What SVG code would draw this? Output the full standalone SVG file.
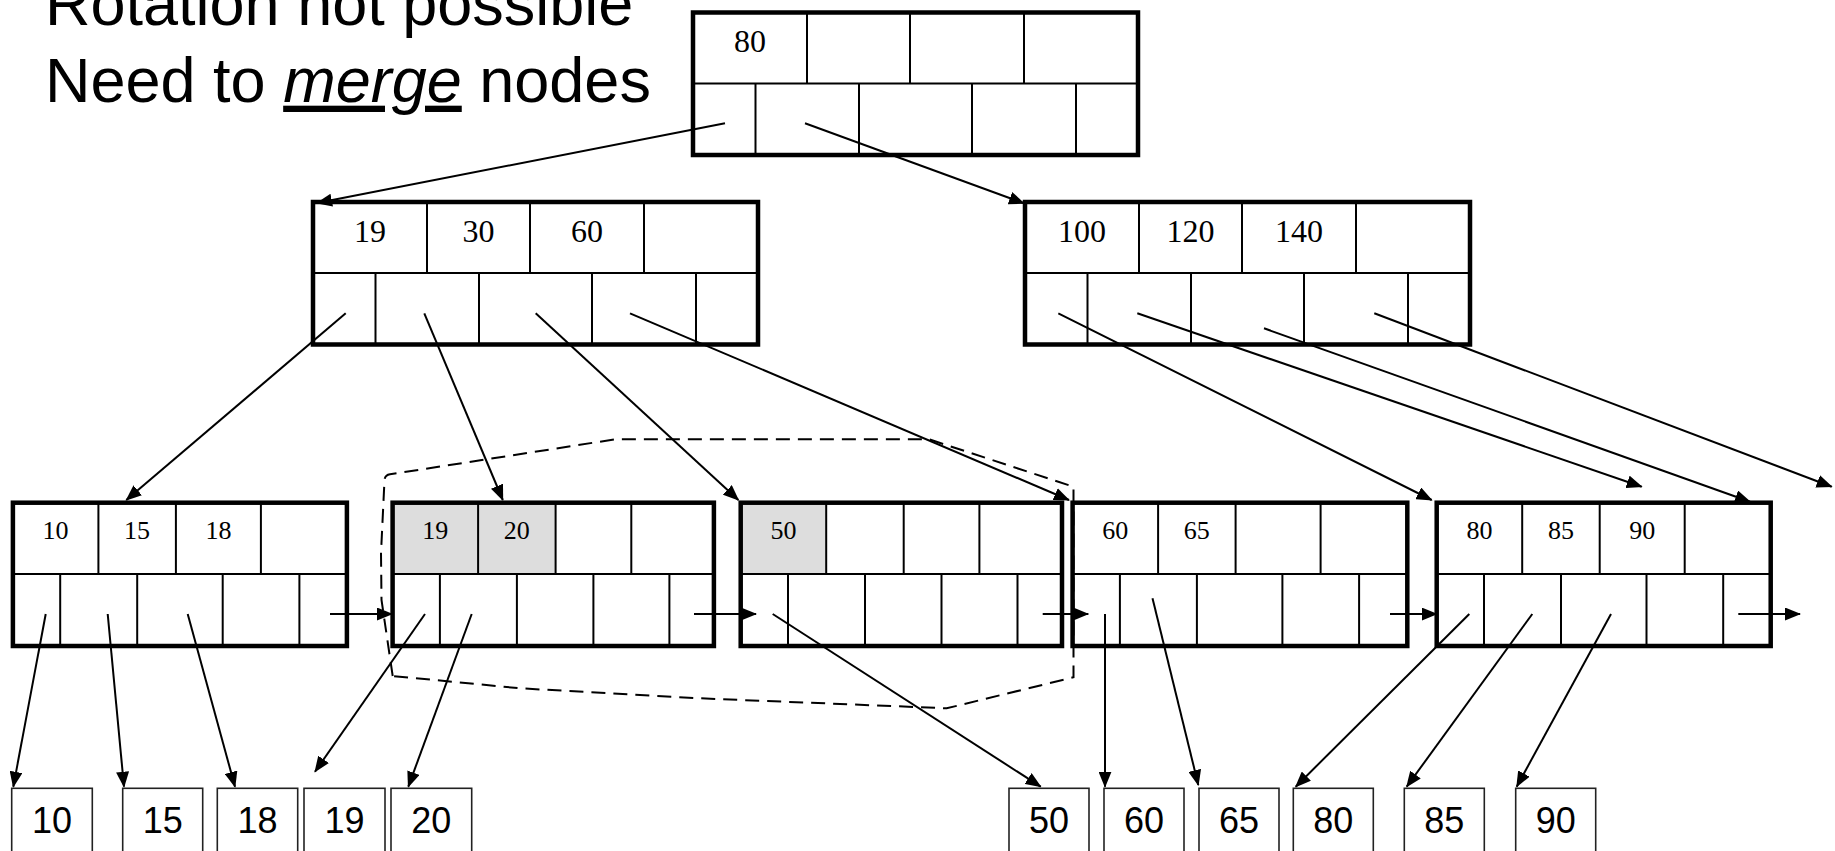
<svg xmlns="http://www.w3.org/2000/svg" width="1835" height="851" viewBox="0 0 1835 851">
<style>
.bg{fill:#ffffff}
.outer{fill:none;stroke:#000;stroke-width:4.5}
.in{stroke:#000;stroke-width:2;fill:none}
.shade{fill:#dddddd}
.kn{font-family:"Liberation Serif","Times New Roman",serif;font-size:32px;fill:#000;text-anchor:middle}
.kl{font-family:"Liberation Serif","Times New Roman",serif;font-size:26px;fill:#000;text-anchor:middle}
.db rect{fill:#fff;stroke:#222;stroke-width:1.6}
.db text{font-family:"Liberation Sans",Arial,sans-serif;font-size:36px;fill:#000;text-anchor:middle}
.title{font-family:"Liberation Sans",Arial,sans-serif;font-size:63px;fill:#000}
.conn line{stroke:#000;stroke-width:2;marker-end:url(#ah)}
.merge{fill:none;stroke:#000;stroke-width:2;stroke-dasharray:14 8}
</style>
<defs>
<marker id="ah" markerWidth="16" markerHeight="13" refX="15" refY="6.5" orient="auto" markerUnits="userSpaceOnUse">
<path d="M0,0 L16,6.5 L0,13 z" fill="#000"/>
</marker>
</defs>
<rect class="bg" x="0" y="0" width="1835" height="851"/>

<g id="title">
<text class="title" x="45" y="25">Rotation not possible</text>
<text class="title" x="45" y="101.7">Need to <tspan font-style="italic" text-decoration="underline">merge</tspan> nodes</text>
</g>

<!-- root -->
<g id="root" transform="translate(693,12.5)">
<line class="in" x1="0" y1="71" x2="445" y2="71"/>
<line class="in" x1="114" y1="0" x2="114" y2="71"/>
<line class="in" x1="217" y1="0" x2="217" y2="71"/>
<line class="in" x1="331" y1="0" x2="331" y2="71"/>
<line class="in" x1="62.5" y1="71" x2="62.5" y2="142.5"/>
<line class="in" x1="166" y1="71" x2="166" y2="142.5"/>
<line class="in" x1="279" y1="71" x2="279" y2="142.5"/>
<line class="in" x1="383" y1="71" x2="383" y2="142.5"/>
<rect class="outer" x="0" y="0" width="445" height="142.5"/>
<text class="kn" x="57" y="39.8">80</text>
</g>

<g id="inner-left" transform="translate(313,202)">
<line class="in" x1="0" y1="71" x2="445" y2="71"/>
<line class="in" x1="114" y1="0" x2="114" y2="71"/>
<line class="in" x1="217" y1="0" x2="217" y2="71"/>
<line class="in" x1="331" y1="0" x2="331" y2="71"/>
<line class="in" x1="62.5" y1="71" x2="62.5" y2="142.5"/>
<line class="in" x1="166" y1="71" x2="166" y2="142.5"/>
<line class="in" x1="279" y1="71" x2="279" y2="142.5"/>
<line class="in" x1="383" y1="71" x2="383" y2="142.5"/>
<rect class="outer" x="0" y="0" width="445" height="142.5"/>
<text class="kn" x="57" y="40.3">19</text>
<text class="kn" x="165.5" y="40.3">30</text>
<text class="kn" x="274" y="40.3">60</text>
</g>

<g id="inner-right" transform="translate(1025,202)">
<line class="in" x1="0" y1="71" x2="445" y2="71"/>
<line class="in" x1="114" y1="0" x2="114" y2="71"/>
<line class="in" x1="217" y1="0" x2="217" y2="71"/>
<line class="in" x1="331" y1="0" x2="331" y2="71"/>
<line class="in" x1="62.5" y1="71" x2="62.5" y2="142.5"/>
<line class="in" x1="166" y1="71" x2="166" y2="142.5"/>
<line class="in" x1="279" y1="71" x2="279" y2="142.5"/>
<line class="in" x1="383" y1="71" x2="383" y2="142.5"/>
<rect class="outer" x="0" y="0" width="445" height="142.5"/>
<text class="kn" x="57" y="40.3">100</text>
<text class="kn" x="165.5" y="40.3">120</text>
<text class="kn" x="274" y="40.3">140</text>
</g>

<!-- leaves -->
<g id="leaf1" transform="translate(12.9,502.7)">
<line class="in" x1="0" y1="71.3" x2="334" y2="71.3"/>
<line class="in" x1="85.5" y1="0" x2="85.5" y2="71.3"/>
<line class="in" x1="163" y1="0" x2="163" y2="71.3"/>
<line class="in" x1="248" y1="0" x2="248" y2="71.3"/>
<line class="in" x1="47.3" y1="71.3" x2="47.3" y2="143.3"/>
<line class="in" x1="124.3" y1="71.3" x2="124.3" y2="143.3"/>
<line class="in" x1="209.8" y1="71.3" x2="209.8" y2="143.3"/>
<line class="in" x1="286.5" y1="71.3" x2="286.5" y2="143.3"/>
<rect class="outer" x="0" y="0" width="334" height="143.3"/>
<text class="kl" x="42.7" y="36.5">10</text>
<text class="kl" x="124.2" y="36.5">15</text>
<text class="kl" x="205.5" y="36.5">18</text>
</g>

<g id="leaf2" transform="translate(392.6,502.7)">
<rect class="shade" x="0" y="0" width="163" height="71.3"/>
<line class="in" x1="0" y1="71.3" x2="321.3" y2="71.3"/>
<line class="in" x1="85.5" y1="0" x2="85.5" y2="71.3"/>
<line class="in" x1="163" y1="0" x2="163" y2="71.3"/>
<line class="in" x1="238.7" y1="0" x2="238.7" y2="71.3"/>
<line class="in" x1="47.3" y1="71.3" x2="47.3" y2="143.3"/>
<line class="in" x1="124.3" y1="71.3" x2="124.3" y2="143.3"/>
<line class="in" x1="200.8" y1="71.3" x2="200.8" y2="143.3"/>
<line class="in" x1="276.8" y1="71.3" x2="276.8" y2="143.3"/>
<rect class="outer" x="0" y="0" width="321.3" height="143.3"/>
<text class="kl" x="42.7" y="36.5">19</text>
<text class="kl" x="124.2" y="36.5">20</text>
</g>

<g id="leaf3" transform="translate(740.7,502.7)">
<rect class="shade" x="0" y="0" width="85.5" height="71.3"/>
<line class="in" x1="0" y1="71.3" x2="321.3" y2="71.3"/>
<line class="in" x1="85.5" y1="0" x2="85.5" y2="71.3"/>
<line class="in" x1="163" y1="0" x2="163" y2="71.3"/>
<line class="in" x1="238.7" y1="0" x2="238.7" y2="71.3"/>
<line class="in" x1="47.3" y1="71.3" x2="47.3" y2="143.3"/>
<line class="in" x1="124.3" y1="71.3" x2="124.3" y2="143.3"/>
<line class="in" x1="200.8" y1="71.3" x2="200.8" y2="143.3"/>
<line class="in" x1="276.8" y1="71.3" x2="276.8" y2="143.3"/>
<rect class="outer" x="0" y="0" width="321.3" height="143.3"/>
<text class="kl" x="42.7" y="36.5">50</text>
</g>

<g id="leaf4" transform="translate(1072.6,502.7)">
<line class="in" x1="0" y1="71.3" x2="334.7" y2="71.3"/>
<line class="in" x1="85.5" y1="0" x2="85.5" y2="71.3"/>
<line class="in" x1="163" y1="0" x2="163" y2="71.3"/>
<line class="in" x1="248" y1="0" x2="248" y2="71.3"/>
<line class="in" x1="47.3" y1="71.3" x2="47.3" y2="143.3"/>
<line class="in" x1="124.3" y1="71.3" x2="124.3" y2="143.3"/>
<line class="in" x1="209.8" y1="71.3" x2="209.8" y2="143.3"/>
<line class="in" x1="286.5" y1="71.3" x2="286.5" y2="143.3"/>
<rect class="outer" x="0" y="0" width="334.7" height="143.3"/>
<text class="kl" x="42.7" y="36.5">60</text>
<text class="kl" x="124.2" y="36.5">65</text>
</g>

<g id="leaf5" transform="translate(1436.7,502.7)">
<line class="in" x1="0" y1="71.3" x2="334" y2="71.3"/>
<line class="in" x1="85.5" y1="0" x2="85.5" y2="71.3"/>
<line class="in" x1="163" y1="0" x2="163" y2="71.3"/>
<line class="in" x1="248" y1="0" x2="248" y2="71.3"/>
<line class="in" x1="47.3" y1="71.3" x2="47.3" y2="143.3"/>
<line class="in" x1="124.3" y1="71.3" x2="124.3" y2="143.3"/>
<line class="in" x1="209.8" y1="71.3" x2="209.8" y2="143.3"/>
<line class="in" x1="286.5" y1="71.3" x2="286.5" y2="143.3"/>
<rect class="outer" x="0" y="0" width="334" height="143.3"/>
<text class="kl" x="42.7" y="36.5">80</text>
<text class="kl" x="124.2" y="36.5">85</text>
<text class="kl" x="205.5" y="36.5">90</text>
</g>

<!-- data records -->
<g id="rec10" class="db"><rect x="11.7" y="788.3" width="80.6" height="80"/><text x="52" y="832.7">10</text></g>
<g id="rec15" class="db"><rect x="122.7" y="788.3" width="80" height="80"/><text x="162.7" y="832.7">15</text></g>
<g id="rec18" class="db"><rect x="217.3" y="788.3" width="80.4" height="80"/><text x="257.5" y="832.7">18</text></g>
<g id="rec19" class="db"><rect x="304" y="788.3" width="81" height="80"/><text x="344.5" y="832.7">19</text></g>
<g id="rec20" class="db"><rect x="391" y="788.3" width="80.7" height="80"/><text x="431.3" y="832.7">20</text></g>
<g id="rec50" class="db"><rect x="1009" y="788.3" width="80" height="80"/><text x="1049" y="832.7">50</text></g>
<g id="rec60" class="db"><rect x="1104" y="788.3" width="80" height="80"/><text x="1144" y="832.7">60</text></g>
<g id="rec65" class="db"><rect x="1199" y="788.3" width="80" height="80"/><text x="1239" y="832.7">65</text></g>
<g id="rec80" class="db"><rect x="1293.3" y="788.3" width="80" height="80"/><text x="1333.3" y="832.7">80</text></g>
<g id="rec85" class="db"><rect x="1404.3" y="788.3" width="80" height="80"/><text x="1444.3" y="832.7">85</text></g>
<g id="rec90" class="db"><rect x="1515.7" y="788.3" width="80" height="80"/><text x="1555.7" y="832.7">90</text></g>

<!-- merge region -->
<path id="merge-region" class="merge" d="M392.7,676 L381.5,600 L381,553 L384.5,480 Q385,475 390,474.3 L615.2,439.3 L929,439.3 L1073.5,486.7 L1073.5,677.3 L946.7,708.3 L700,698.3 L520,688.3 Z"/>

<g id="connectors" class="conn">
<line x1="725" y1="123.3" x2="317" y2="203"/>
<line x1="805" y1="123.3" x2="1024" y2="203.3"/>
<line x1="345.7" y1="313.3" x2="126.3" y2="500"/>
<line x1="424.3" y1="313.3" x2="502.8" y2="500"/>
<line x1="535.7" y1="313.3" x2="738.4" y2="500"/>
<line x1="630" y1="313.3" x2="1069" y2="500"/>
<line x1="1058.3" y1="313.3" x2="1431.7" y2="500"/>
<line x1="1137.3" y1="313.3" x2="1641.7" y2="486.7"/>
<line x1="1264" y1="328.3" x2="1750" y2="501.7"/>
<line x1="1374.3" y1="313.3" x2="1831.7" y2="486.7"/>
<line x1="45.7" y1="614" x2="13.3" y2="786.7"/>
<line x1="107.7" y1="614" x2="124" y2="786.7"/>
<line x1="187.7" y1="614" x2="235" y2="786.7"/>
<line x1="330" y1="614" x2="392" y2="614"/>
<line x1="425" y1="614" x2="315" y2="771.7"/>
<line x1="471.7" y1="614" x2="408.3" y2="786.7"/>
<line x1="694" y1="614" x2="756" y2="614"/>
<line x1="772.7" y1="614" x2="1040.7" y2="786.7"/>
<line x1="1042.7" y1="614" x2="1088.3" y2="614"/>
<line x1="1105" y1="614" x2="1105" y2="786.7"/>
<line x1="1152.5" y1="598.3" x2="1198.3" y2="785"/>
<line x1="1390" y1="614" x2="1436.7" y2="614"/>
<line x1="1469.3" y1="614" x2="1295.7" y2="786.7"/>
<line x1="1532.3" y1="614" x2="1406.7" y2="786.7"/>
<line x1="1611" y1="614" x2="1516.7" y2="786.7"/>
<line x1="1738.3" y1="614" x2="1800" y2="614"/>
</g>
</svg>
